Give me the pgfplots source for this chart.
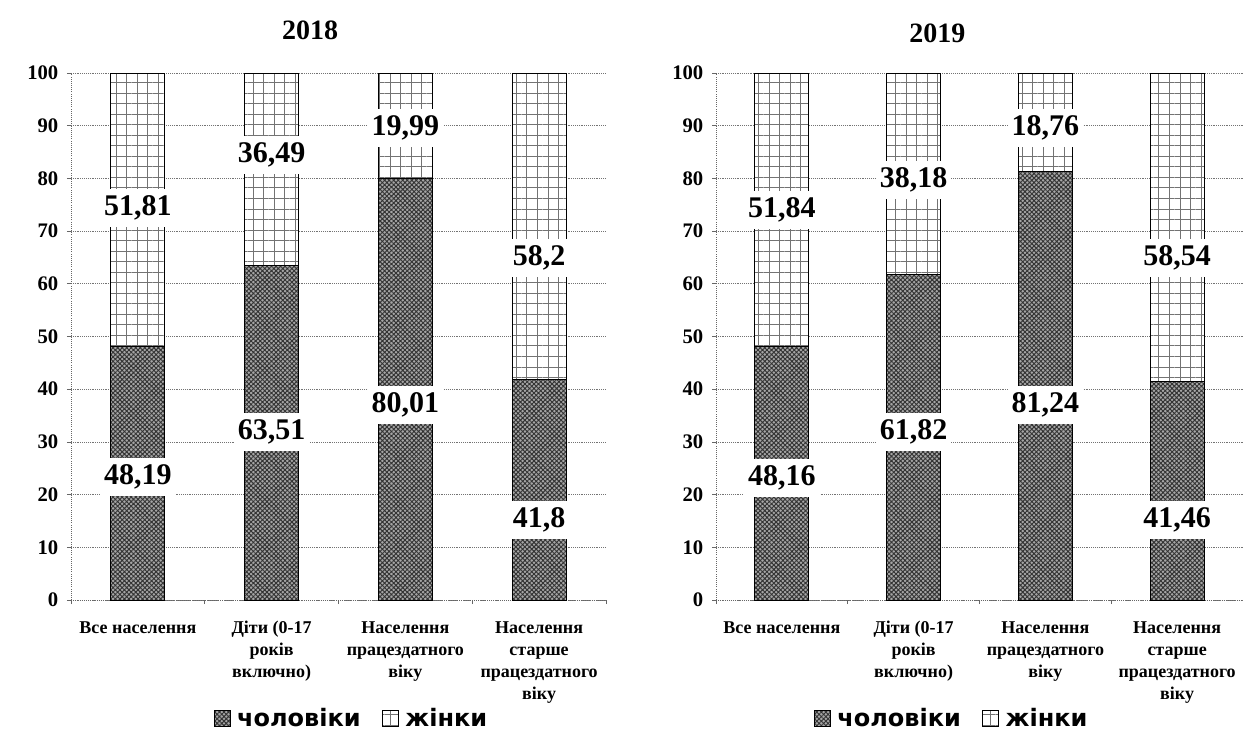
\documentclass[border=0pt]{standalone}
\usepackage{pgfplots}
\pgfplotsset{compat=1.18}
\usepackage{pgfplotstable}
\usetikzlibrary{patterns.meta}
\usepackage{fontspec}
\setmainfont{Liberation Serif}
\newfontfamily\legfont{DejaVu Sans}

\pgfplotstableread{
x men women
0 48.19 51.81
1 63.51 36.49
2 80.01 19.99
3 41.8 58.2
}\dataA
\pgfplotstableread{
x men women
0 48.16 51.84
1 61.82 38.18
2 81.24 18.76
3 41.46 58.54
}\dataB

\tikzset{
  lab/.style={fill=white, inner xsep=3pt, inner ysep=5pt, font=\bfseries\fontsize{22.5}{24}\selectfont},
}
\pgfplotsset{
  menstyle/.style={draw=black, line width=0.7pt, fill=black!35,
    postaction={pattern={Hatch[distance=2.4pt, angle=45, line width=0.7pt]}, pattern color=black!80}},
  womenstyle/.style={draw=black, line width=0.7pt, fill=white,
    postaction={pattern={Hatch[distance=7.9pt, angle=0, line width=0.35pt]}, pattern color=black!55}},
  mybar/.style={
    scale only axis, height=395.25pt,
    ybar stacked, bar width=40.5pt,
    xmin=-0.5, xmax=3.5, ymin=0, ymax=100,
    axis x line*=bottom, axis y line*=left,
    axis line style={draw=black!60, densely dotted, line width=0.6pt, -},
    ytick={0,10,...,100},
    ymajorgrids, major grid style={draw=black!55, densely dotted, line width=0.6pt},
    xtick={-0.5,0.5,1.5,2.5,3.5}, xticklabels={},
    tick align=outside, major tick length=3pt,
    tick style={draw=black!60, line width=0.6pt},
    /pgf/number format/assume math mode=true,
    yticklabel style={font=\bfseries\fontsize{15.5}{18}\selectfont, xshift=-3pt},
    extra x ticks={0,1,2,3},
    extra x tick style={major tick length=0pt, grid=none,
      xticklabel style={align=center, font=\bfseries\fontsize{13.5}{16.5}\selectfont, yshift=-10pt}},
    extra x tick labels={\strut Все населення, {\strut Діти (0-17\\років\\включно)}, {\strut Населення\\працездатного\\віку}, {\strut Населення\\старше\\працездатного\\віку}},
    legend columns=2,
    legend style={draw=none, fill=none, anchor=center,
      font=\legfont\bfseries\fontsize{18}{21}\selectfont,
      /tikz/every odd column/.append style={column sep=3pt},
      /tikz/every even column/.append style={column sep=14pt}},
    legend image code/.code={\draw[#1, line width=0.5pt] (0pt,-6pt) rectangle (12pt,6pt);},
  },
}

\begin{document}
\begin{tikzpicture}
\useasboundingbox (0,0) rectangle (932.25pt,-559.5pt);
\node[font=\bfseries\fontsize{21}{24}\selectfont] at (232.5pt,-23pt) {2018};
\node[font=\bfseries\fontsize{21}{24}\selectfont] at (703pt,-25pt) {2019};

\begin{axis}[mybar, width=401.25pt, at={(53.25pt,-450pt)}, anchor=south west,
  legend style={at={(0.525,-0.224)}}]
\addplot[menstyle] table[x=x, y=men] {\dataA};
\addplot[womenstyle] table[x=x, y=women] {\dataA};
\legend{чоловіки, жінки}
\coordinate (a1) at (axis cs:0,74.4);
\coordinate (a2) at (axis cs:0,23.3);
\coordinate (a3) at (axis cs:1,84.4);
\coordinate (a4) at (axis cs:1,31.9);
\coordinate (a5) at (axis cs:2,89.6);
\coordinate (a6) at (axis cs:2,37.0);
\coordinate (a7) at (axis cs:3,64.9);
\coordinate (a8) at (axis cs:3,15.2);
\end{axis}
\node[lab] at (a1) {51,81};
\node[lab] at (a2) {48,19};
\node[lab] at (a3) {36,49};
\node[lab] at (a4) {63,51};
\node[lab] at (a5) {19,99};
\node[lab] at (a6) {80,01};
\node[lab] at (a7) {58,2};
\node[lab] at (a8) {41,8};

\begin{axis}[mybar, width=395.25pt, at={(537pt,-450pt)}, anchor=south west,
  legend style={at={(0.448,-0.224)}}]
\addplot[menstyle] table[x=x, y=men] {\dataB};
\addplot[womenstyle] table[x=x, y=women] {\dataB};
\legend{чоловіки, жінки}
\coordinate (b1) at (axis cs:0,74.0);
\coordinate (b2) at (axis cs:0,23.1);
\coordinate (b3) at (axis cs:1,79.7);
\coordinate (b4) at (axis cs:1,31.9);
\coordinate (b5) at (axis cs:2,89.6);
\coordinate (b6) at (axis cs:2,37.0);
\coordinate (b7) at (axis cs:3,64.9);
\coordinate (b8) at (axis cs:3,15.2);
\end{axis}
\node[lab] at (b1) {51,84};
\node[lab] at (b2) {48,16};
\node[lab] at (b3) {38,18};
\node[lab] at (b4) {61,82};
\node[lab] at (b5) {18,76};
\node[lab] at (b6) {81,24};
\node[lab] at (b7) {58,54};
\node[lab] at (b8) {41,46};
\end{tikzpicture}
\end{document}
